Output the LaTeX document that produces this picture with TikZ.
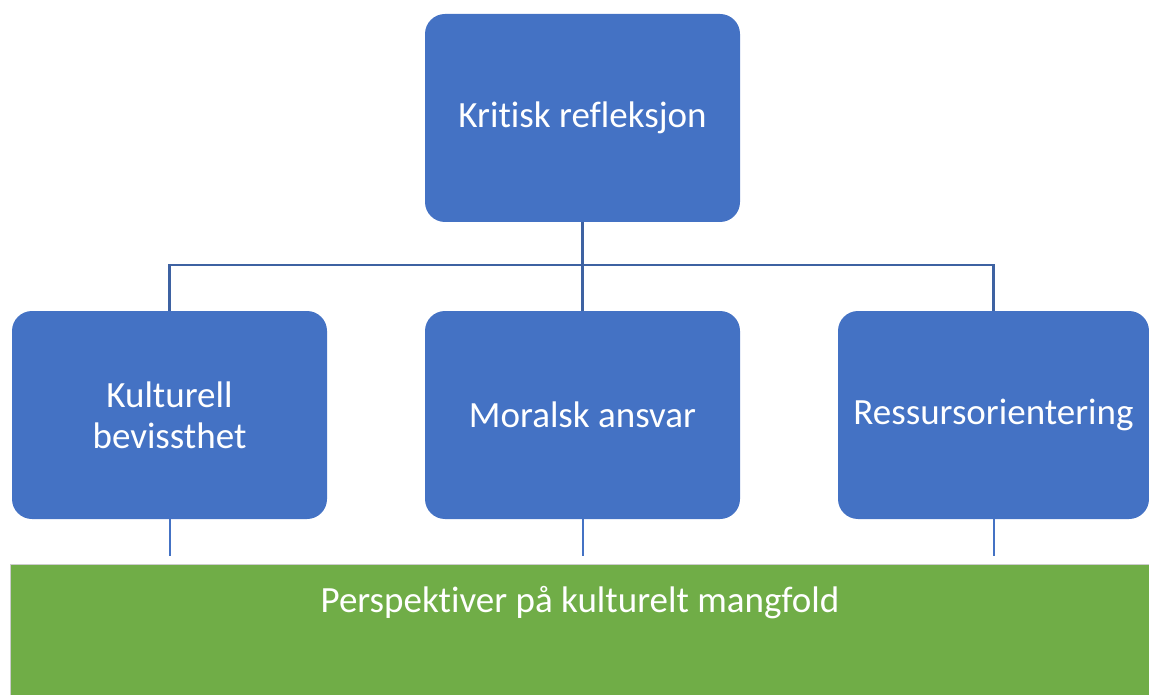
\documentclass[tikz,border=0pt]{standalone}
\usepackage{fontspec}
\setmainfont{Carlito}[Ligatures=NoCommon]
\usepackage{xcolor}
\usetikzlibrary{positioning}
\definecolor{boxclr}{RGB}{68,114,196}
\definecolor{lineclr}{RGB}{62,98,162}
\definecolor{baseclr}{RGB}{112,173,71}
\tikzset{
  blk/.style={rectangle,rounded corners=20pt,fill=boxclr,draw=none,
              minimum width=315pt,minimum height=208pt,inner sep=2pt,
              text=white,align=center,
              font=\fontsize{37}{41}\selectfont},
  tree/.style={draw=lineclr,line width=2.2pt},
  stub/.style={draw=boxclr,line width=2pt},
  basebox/.style={rectangle,fill=baseclr,draw=black!20,line width=0.8pt,
                  minimum width=1139pt,minimum height=140pt,inner sep=0pt},
}
\begin{document}
\begin{tikzpicture}[x=1pt,y=-1pt]
\useasboundingbox (0,0) rectangle (1149,695);
\node[blk] (krit) at (582.5,118) {Kritisk refleksjon};
\node[blk] (kult) at (169.5,415) {Kulturell\\bevissthet};
\node[blk] (mor)  at (582.5,415) {Moralsk ansvar};
\node[blk,minimum width=311pt] (res) at (993.5,415) {Ressursorientering};
\node[basebox] (base) at (579.5,634) {};
\node[text=white,anchor=base,font=\fontsize{37}{41}\selectfont] (basetxt)
  at (580,612) {Perspektiver på kulturelt mangfold};
\coordinate (bus) at (582.5,265);
\draw[tree] (krit.south) -- (bus);
\draw[tree] (bus) -- (mor.north);
\draw[tree] (kult.north) |- (bus) -| (res.north);
\coordinate (kultend) at (169.5,556);
\coordinate (morend)  at (582.5,556);
\coordinate (resend)  at (993.5,556);
\draw[stub] (kult.south) -- (kultend);
\draw[stub] (mor.south) -- (morend);
\draw[stub] (res.south) -- (resend);
\end{tikzpicture}
\end{document}
